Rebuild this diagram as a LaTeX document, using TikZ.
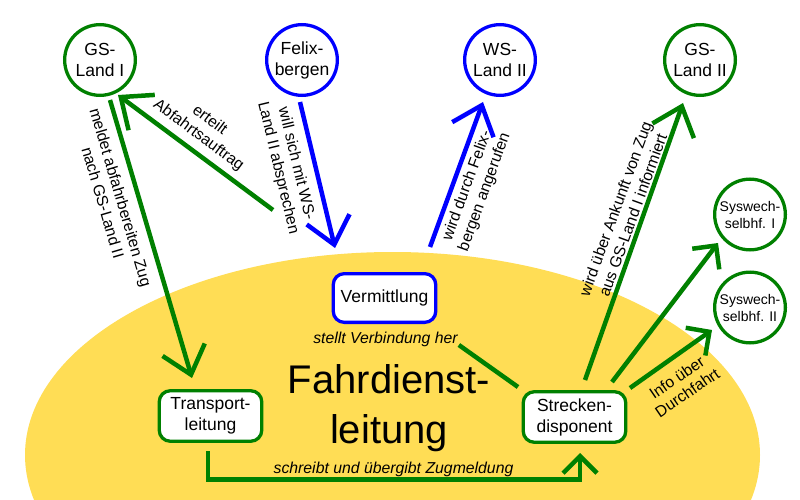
\documentclass[tikz,border=0pt]{standalone}
\usepackage{fontspec}
\setmainfont{Liberation Sans}
\usetikzlibrary{arrows.meta,calc}
\definecolor{fgreen}{RGB}{0,128,0}
\definecolor{fblue}{RGB}{0,0,255}
\definecolor{fyellow}{RGB}{255,221,85}
\begin{document}
\begin{tikzpicture}[x=1pt,y=-1pt,
  circ/.style={circle, line width=3.3pt, fill=white, minimum size=70.7pt, inner sep=0pt, align=center, font=\fontsize{17.5}{21}\selectfont},
  gcirc/.style={circ, draw=fgreen},
  bcirc/.style={circ, draw=fblue},
  scirc/.style={gcirc, font=\fontsize{14}{17}\selectfont},
  rbox/.style={rectangle, rounded corners=11pt, line width=3.3pt, fill=white, minimum width=102.5pt, minimum height=50.5pt, inner sep=0pt, align=center, font=\fontsize{17.5}{21}\selectfont},
  lab/.style={align=center, inner sep=0pt, font=\fontsize{15.8}{18.6}\selectfont},
  ilab/.style={inner sep=0pt, font=\fontsize{15.8}{18.6}\selectfont\itshape},
  gconn/.style={line width=4.5pt, draw=fgreen},
  bconn/.style={line width=4.5pt, draw=fblue},
  bigtip/.style={-{Straight Barb[length=26pt,width=44pt]}},
  smalltip/.style={-{Straight Barb[length=17pt,width=34pt]}},
]
\useasboundingbox (0,0) rectangle (800,500);
\fill[white] (0,0) rectangle (800,500);
\begin{scope}
  \clip (0,0) rectangle (800,500);
  \fill[fyellow] (392.5,455) ellipse [x radius=367.5pt, y radius=203pt];
\end{scope}

% nodes
\node[gcirc] (gs1) at (100,60) {GS-\\Land I};
\node[bcirc] (fb) at (302,60) {Felix-\\bergen};
\node[bcirc] (ws2) at (500,60) {WS-\\Land II};
\node[gcirc] (gs2) at (700,60) {GS-\\Land II};
\node[scirc] (sy1) at (750,214.5) {Syswech-\\selbhf. I};
\node[scirc] (sy2) at (750,307.5) {Syswech-\\selbhf. II};
\node[rbox, draw=fblue, minimum height=48.7pt] (verm) at (384.5,298) {Vermittlung};
\node[rbox, draw=fgreen] (tl) at (210.5,416) {Transport-\\leitung};
\node[rbox, draw=fgreen] (sd) at (574.5,417) {Strecken-\\disponent};
\node[align=center, inner sep=0pt, font=\fontsize{40}{50}\selectfont] (fdl) at (389,407.7) {Fahrdienst-\\leitung};

\coordinate (c1) at (273,210);
\coordinate (c2) at (335,248);
\coordinate (c3) at (430,247);

% labels
\node[lab, rotate=-73.6] (l1) at (112,200) {meldet abfahrbereiten Zug\\nach GS-Land II};
\node[lab, rotate=-36.6] (l2) at (204,128) {erteilt\\Abfahrtsauftrag};
\node[lab, rotate=-76.5] (l3) at (287,166) {will sich mit WS-\\Land II absprechen};
\node[lab, rotate=70] (l4) at (476,189) {wird durch Felix-\\bergen angerufen};
\node[lab, rotate=70] (l5) at (624,212) {wird über Ankunft von Zug\\aus GS-Land I informiert};
\node[lab, rotate=34.3] (l7) at (682,385) {Info über\\Durchfahrt};
\node[ilab, anchor=base] (vlbl) at (385.5,343) {stellt Verbindung her};
\node[ilab, anchor=base] (zl) at (393.5,473) {schreibt und übergibt Zugmeldung};

% connectors
\draw[gconn,bigtip] ($(gs1)+(10,40)$) -- ($(tl)+(-18.5,-38)$);
\draw[gconn,bigtip] (c1) -- ($(gs1)+(18,35)$);
\draw[bconn,bigtip] ($(fb)+(-2,42)$) -- (c2);
\draw[bconn,bigtip] (c3) -- ($(ws2)+(-17,42)$);
\draw[gconn,bigtip] ($(sd)+(10.5,-37)$) -- ($(gs2)+(-17,43)$);
\draw[gconn,smalltip] ($(sd)+(37.5,-35)$) -- ($(sy1)+(-32,28.5)$);
\draw[gconn,smalltip] ($(sd)+(55.5,-29)$) -- ($(sy2)+(-38,22.5)$);
\draw[gconn,smalltip] ($(tl)+(-2.5,35)$) -- ++(0,28.5) -| ($(sd)+(5.5,36)$);
\draw[gconn] ($(vlbl.base east)+(1,2)$) -- ($(sd)+(-56.5,-30)$);
\end{tikzpicture}
\end{document}
